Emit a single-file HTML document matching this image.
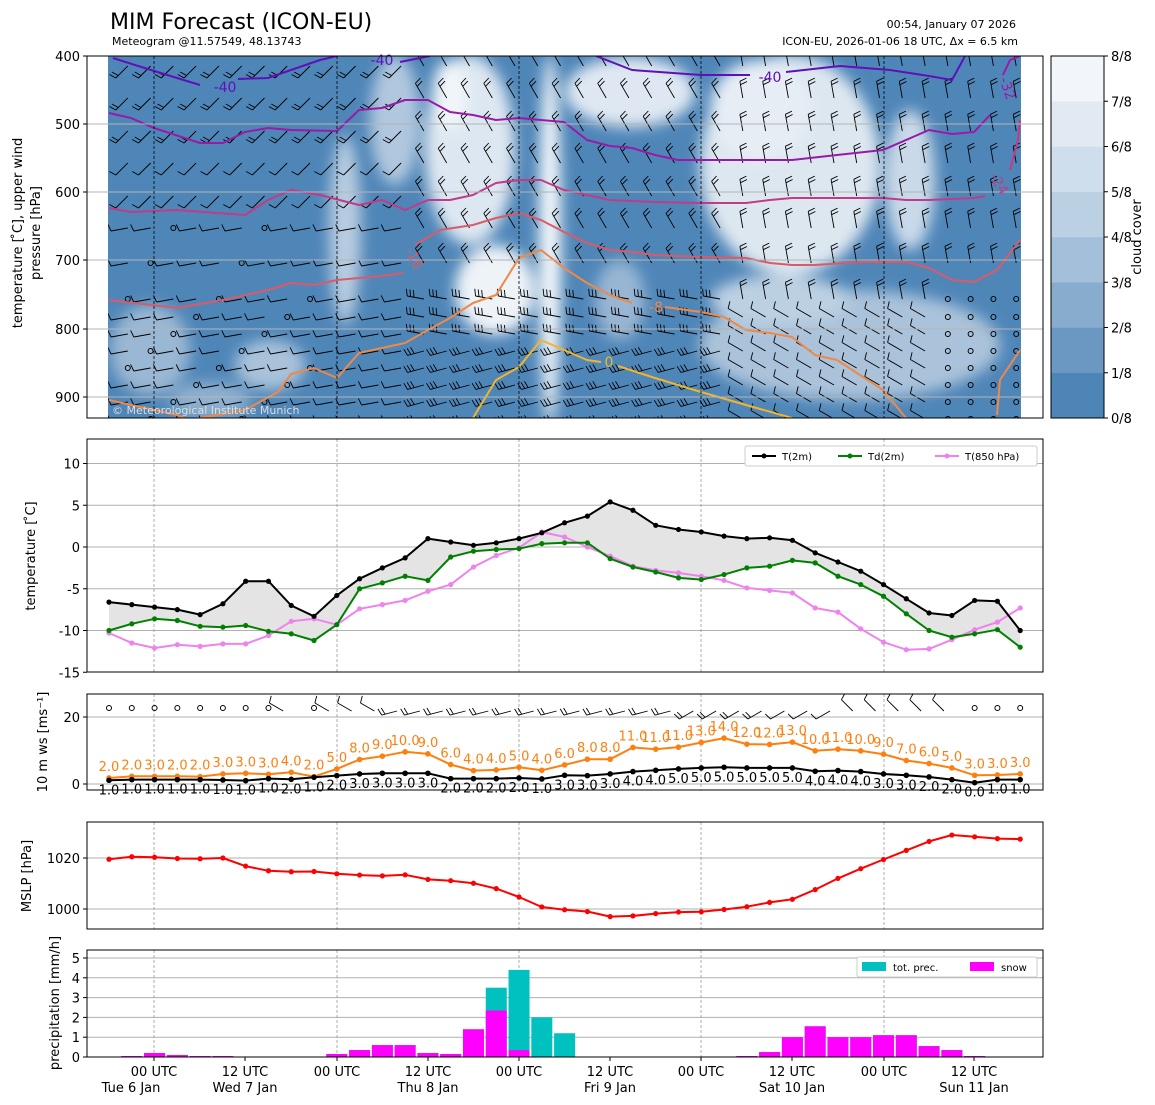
<!DOCTYPE html>
<html><head><meta charset="utf-8"><style>
html,body{margin:0;padding:0;background:#fff;}
svg{display:block;font-family:"DejaVu Sans","Liberation Sans",sans-serif;}
</style></head><body>
<svg id="s" width="1155" height="1105" xmlns="http://www.w3.org/2000/svg">
<defs>
<filter id="bl" x="-50%" y="-50%" width="200%" height="200%"><feGaussianBlur stdDeviation="7"/></filter>
<clipPath id="c1"><rect x="108" y="56" width="913" height="362"/></clipPath>
<clipPath id="c3"><rect x="87" y="694" width="956" height="96"/></clipPath>
</defs>
<g id="g"></g>
</svg>
<script>
const NS="http://www.w3.org/2000/svg";let G=document.getElementById('g');const ROOT=G;
function add(p,t,a,txt){const e=document.createElementNS(NS,t);for(const k in a)e.setAttribute(k,a[k]);if(txt!==undefined)e.textContent=txt;p.appendChild(e);return e;}
function el(t,a,txt){return add(G,t,a,txt);}
const X=i=>109+22.78*i;
const L=87,R=1043;
const vlines=[154,337,519,701,884];
el('text',{x:110,y:29,'font-size':22},'MIM Forecast (ICON-EU)');
el('text',{x:112,y:45,'font-size':11},'Meteogram @11.57549, 48.13743');
el('text',{x:1016,y:28,'font-size':11,'text-anchor':'end'},'00:54, January 07 2026');
el('text',{x:1018,y:45,'font-size':11,'text-anchor':'end'},'ICON-EU, 2026-01-06 18 UTC, Δx = 6.5 km');
// ===== panel 1 =====
const cg=add(ROOT,'g',{'clip-path':'url(#c1)'});
add(cg,'rect',{x:108,y:56,width:913,height:362,fill:'#4f86b8'});
const bg=add(cg,'g',{filter:'url(#bl)'});
const blobs=[
['#9ab7d3',150,350,40,45],['#a9c2da',270,365,35,25],['#8fb0cf',210,400,40,18],
['#b7cce0',345,230,16,95],['#b0c7de',395,120,25,65],['#dde7f1',470,150,45,95],
['#f0f5f9',450,95,18,35],['#eef3f8',495,290,40,45],['#f3f7fa',550,240,11,185],
['#dfe8f2',630,92,65,35],['#dde7f0',790,165,90,110],['#e6edf5',760,110,50,50],
['#c9d9e9',910,180,25,70],['#aac3da',850,345,150,55],['#bcd0e3',780,300,70,25],
['#98b6d3',620,300,25,40]];
blobs.forEach(b=>add(bg,'ellipse',{cx:b[1],cy:b[2],rx:b[3],ry:b[4],fill:b[0]}));
const bgrp=add(cg,'g',{});
[124,192,260,329,397].forEach(y=>el('line',{x1:L,x2:R,y1:y,y2:y,stroke:'#b4b4b4','stroke-width':1}));
vlines.forEach(x=>el('line',{x1:x,x2:x,y1:56,y2:418,stroke:'#000','stroke-width':0.8,'stroke-dasharray':'3,2'}));
const rows=[60,92,125,157,190,222,257,293,311,328,345,362,379,396,413];
function barb(x,y,ang,n,calm,len){
 len=len||17;
 if(calm){el('circle',{cx:x,cy:y,r:2.5,fill:'none',stroke:'#000','stroke-width':1});return;}
 const a=ang*Math.PI/180,dx=Math.sin(a),dy=-Math.cos(a);
 const ex=x+dx*len,ey=y+dy*len;let d=`M${x.toFixed(1)} ${y}L${ex.toFixed(1)} ${ey.toFixed(1)}`;
 for(let k=0;k<n;k++){const t=len-k*3.5;const px=x+dx*t,py=y+dy*t;
  const fx=px-dy*7+dx*2,fy=py+dx*7+dy*2;d+=`M${px.toFixed(1)} ${py.toFixed(1)}L${fx.toFixed(1)} ${fy.toFixed(1)}`;}
 el('path',{d:d,stroke:'#000','stroke-width':0.9,fill:'none'});
}
G=bgrp;
for(let i=0;i<41;i++){const x=X(i);rows.forEach((y,r)=>{
 let ang,n,calm=false;
 if(i<14){ang=r<5?225:260;n=r<3?2:1;if(r>=5&&i<10&&((i*7+r*3)%4==0))calm=true;}
 else if(i<28){ang=r<7?330:(r<10?280:255);n=r<7?2:3;}
 else {ang=r<8?350:300;n=r<8?2:1;if(i>36&&r>6)calm=true;}
 barb(x-4,y+6,ang,n,calm);});}
G=ROOT;
function pl(pts,col,w){el('polyline',{points:pts,fill:'none',stroke:col,'stroke-width':w||2,'stroke-linejoin':'round'});}
const c40='#6010b8',c32='#9a1aa8',c24='#c23a88',c16='#dc5a68',c8='#f08848',c0='#f4b42a';
G=cg;
pl('113,58 135,65 177,78 200,85',c40);pl('238,79 268,78 291,70 320,60 337,56',c40);pl('400,62 430,56',c40);
pl('596,56 632,70 701,75 750,75',c40);pl('786,72 840,66 890,70 929,76 952,80 965,56',c40);
pl('109,113 131,118 154,128 200,143 223,143 245,132 268,128 291,130 337,131 359,110 382,108 405,100 428,100 450,112 473,115 496,120 519,118 541,120 564,122 587,140 610,146 632,148 655,155 678,160 701,160 746,160 792,160 837,155 883,150 929,130 952,134 974,132 990,115',c32);
pl('1003,75 1010,60 1020,56',c32);
pl('109,208 131,212 177,210 245,215 268,200 291,190 320,195 359,205 382,200 405,210 428,200 450,200 473,195 496,183 519,180 541,180 564,190 587,195 610,200 655,202 701,203 746,203 770,200 792,198 837,198 883,198 906,200 929,200 974,198 985,196',c24);
pl('1010,170 1018,140 1020,120',c24);
pl('109,300 177,308 223,300 268,290 291,283 314,285 337,280 359,278 382,276 403,273',c16);
pl('415,245 440,230 473,225 496,218 519,213 541,220 564,232 587,243 610,250 632,252 655,255 701,257 746,258 770,263 792,265 815,265 860,262 906,262 929,268 952,280 974,282 997,270 1020,240',c16);
pl('109,400 131,405 177,415 185,418',c8);pl('200,418 245,410 278,392 291,374 314,368 337,378 359,353 382,348 405,343 428,330 450,318 473,303 496,295 519,258 541,250 564,268 587,283 610,295 632,303',c8);
pl('665,307 701,312 724,317 746,330 770,333 792,337 815,355 837,360 860,375 883,390 906,418',c8);pl('997,415 1000,380 1020,350',c8);
pl('473,418 496,380 519,367 541,340 564,350 587,360 601,362',c0);pl('618,366 655,378 701,392 746,405 792,418',c0);
G=ROOT;
el('text',{x:225,y:92,'font-size':14,fill:c40,'text-anchor':'middle'},'-40');
el('text',{x:382,y:65,'font-size':14,fill:c40,'text-anchor':'middle'},'-40');
el('text',{x:770,y:82,'font-size':14,fill:c40,'text-anchor':'middle'},'-40');
el('text',{x:1003,y:90,'font-size':14,fill:c32,'text-anchor':'middle',transform:'rotate(70 1003 90)'},'-32');
el('text',{x:995,y:186,'font-size':14,fill:c24,'text-anchor':'middle',transform:'rotate(60 995 186)'},'-24');
el('text',{x:410,y:260,'font-size':14,fill:c16,'text-anchor':'middle',transform:'rotate(65 410 260)'},'-16');
el('text',{x:656,y:312,'font-size':14,fill:c8,'text-anchor':'middle'},'-8');
el('text',{x:609,y:367,'font-size':14,fill:c0,'text-anchor':'middle'},'0');
el('text',{x:112,y:414,'font-size':11,fill:'#dddddd'},'© Meteorological Institute Munich');
el('rect',{x:L,y:56,width:R-L,height:362,fill:'none',stroke:'#000','stroke-width':1});
[[400,56],[500,124],[600,192],[700,260],[800,329],[900,397]].forEach(t=>{el('line',{x1:L-4,x2:L,y1:t[1],y2:t[1],stroke:'#000'});el('text',{x:L-7,y:t[1]+5,'font-size':13,'text-anchor':'end'},t[0]);});
el('text',{x:0,y:0,'font-size':13,'text-anchor':'middle',transform:'translate(22,233) rotate(-90)'},'temperature [ ̊C], upper wind');
el('text',{x:0,y:0,'font-size':13,'text-anchor':'middle',transform:'translate(40,233) rotate(-90)'},'pressure [hPa]');
const cbc=['#4d85b7','#6a98c3','#87acce','#a3bfd9','#bbd0e3','#cfdeec','#e1eaf3','#f2f6fa'];
for(let k=0;k<8;k++){el('rect',{x:1051,y:418-(k+1)*45.25,width:53,height:45.5,fill:cbc[k]});}
el('rect',{x:1051,y:56,width:53,height:362,fill:'none',stroke:'#000'});
for(let k=0;k<=8;k++){const y=418-k*45.25;el('line',{x1:1104,x2:1108,y1:y,y2:y,stroke:'#000'});el('text',{x:1111,y:y+5,'font-size':13},k+'/8');}
el('text',{x:0,y:0,'font-size':13,'text-anchor':'middle',transform:'translate(1141,237) rotate(-90)'},'cloud cover');
// ===== panel 2 =====
const T=[-6.6,-6.9,-7.2,-7.5,-8.1,-6.8,-4.1,-4.1,-7.0,-8.3,-5.8,-3.8,-2.5,-1.3,1.0,0.6,0.2,0.5,1.0,1.7,2.9,3.7,5.4,4.4,2.6,2.1,1.8,1.3,1.0,1.1,0.8,-0.7,-1.8,-2.9,-4.5,-6.2,-7.9,-8.2,-6.4,-6.5,-10];
const Td=[-10,-9.2,-8.6,-8.8,-9.5,-9.6,-9.4,-10.1,-10.4,-11.2,-9.3,-5.0,-4.3,-3.5,-4.0,-1.2,-0.5,-0.3,-0.2,0.4,0.5,0.5,-1.4,-2.4,-3.0,-3.7,-3.9,-3.3,-2.5,-2.3,-1.6,-1.9,-3.5,-4.5,-5.9,-8.0,-10.0,-10.8,-10.4,-9.9,-12];
const T8=[-10.3,-11.5,-12.1,-11.7,-11.9,-11.6,-11.6,-10.6,-8.9,-8.6,-9.3,-7.4,-6.9,-6.4,-5.3,-4.5,-2.4,-1.0,-0.1,1.8,1.2,0,-1.1,-2.3,-2.8,-3.1,-3.5,-4.0,-4.9,-5.2,-5.5,-7.3,-7.8,-9.8,-11.4,-12.3,-12.2,-11.1,-9.9,-9.0,-7.3];
const Y2=v=>547-8.35*v;
[10,5,0,-5,-10].forEach(v=>el('line',{x1:L,x2:R,y1:Y2(v),y2:Y2(v),stroke:'#b0b0b0'}));
vlines.forEach(x=>el('line',{x1:x,x2:x,y1:439,y2:672,stroke:'#999','stroke-width':0.8,'stroke-dasharray':'3,2'}));
let poly=T.map((v,i)=>X(i)+','+Y2(v)).join(' ')+' '+Td.map((v,i)=>X(i)+','+Y2(v)).reverse().join(' ');
el('polygon',{points:poly,fill:'#e4e4e4'});
function series(arr,Y,col,r,w){pl(arr.map((v,i)=>X(i).toFixed(1)+','+Y(v).toFixed(1)).join(' '),col,w||2);arr.forEach((v,i)=>el('circle',{cx:X(i),cy:Y(v),r:r||2.6,fill:col}));}
series(T8,Y2,'#ee82ee');series(Td,Y2,'#008000');series(T,Y2,'#000');
el('rect',{x:L,y:439,width:R-L,height:233,fill:'none',stroke:'#000'});
[10,5,0,-5,-10,-15].forEach(v=>{el('line',{x1:L-4,x2:L,y1:Y2(v),y2:Y2(v),stroke:'#000'});el('text',{x:L-7,y:Y2(v)+5,'font-size':13,'text-anchor':'end'},v);});
el('text',{x:0,y:0,'font-size':13,'text-anchor':'middle',transform:'translate(35,556) rotate(-90)'},'temperature [ ̊C]');
el('rect',{x:745,y:446,width:292,height:20,fill:'#fff',stroke:'#ccc',rx:2});
[[752,'#000','T(2m)'],[838,'#008000','Td(2m)'],[935,'#ee82ee','T(850 hPa)']].forEach(l=>{el('line',{x1:l[0],x2:l[0]+24,y1:456,y2:456,stroke:l[1],'stroke-width':2});el('circle',{cx:l[0]+12,cy:456,r:2.5,fill:l[1]});el('text',{x:l[0]+30,y:460,'font-size':10},l[2]);});
// ===== panel 3 =====
const gl=[2,2,3,2,2,3,3,3,4,2,5,8,9,10,9,6,4,4,5,4,6,8,8,11,11,11,13,14,12,12,13,10,11,10,9,7,6,5,3,3,3];
const ml=[1,1,1,1,1,1,1,1,2,1,2,3,3,3,3,2,2,2,2,1,3,3,3,4,4,5,5,5,5,5,5,4,4,4,3,3,2,2,0,1,1];
const gv=[1.8,2.3,2.3,2.3,2.2,3.0,3.2,2.9,3.5,2.2,4.5,7.3,8.3,9.6,9.0,5.8,4.0,4.2,5.0,4.1,5.7,7.4,7.4,10.9,10.4,11.0,12.4,13.7,11.9,11.8,12.5,9.9,10.4,9.9,8.9,7.0,6.1,4.8,2.6,2.7,3.0];
const mv=[1.1,1.3,1.3,1.3,1.3,1.2,1.0,1.6,1.4,2.0,2.5,3.0,3.2,3.2,3.2,1.6,1.6,1.6,1.8,1.5,2.6,2.5,3.0,3.7,4.1,4.5,4.8,5.0,4.8,4.8,4.8,3.8,4.0,3.7,3.0,2.6,2.1,1.3,0.4,1.3,1.3];
const Y3=v=>784-3.35*v;
[0,20].forEach(v=>el('line',{x1:L,x2:R,y1:Y3(v),y2:Y3(v),stroke:'#b0b0b0'}));
vlines.forEach(x=>el('line',{x1:x,x2:x,y1:694,y2:790,stroke:'#999','stroke-width':0.8,'stroke-dasharray':'3,2'}));
series(gv,Y3,'#ff7f0e',2.8);series(mv,Y3,'#000',2.8);
gl.forEach((v,i)=>el('text',{x:X(i),y:Y3(gv[i])-7,'font-size':13,fill:'#ff7f0e','text-anchor':'middle'},v.toFixed(1)));
ml.forEach((v,i)=>el('text',{x:X(i),y:Y3(mv[i])+14,'font-size':13,fill:'#000','text-anchor':'middle'},v.toFixed(1)));
const b3=add(ROOT,'g',{'clip-path':'url(#c3)'});G=b3;
for(let i=0;i<41;i++){const x=X(i),y=708;
 if(i<8||i==9||i>37)el('circle',{cx:x,cy:y,r:2.5,fill:'none',stroke:'#000'});
 else{const ang=i<13?300:(i<26?255:(i<33?240:315));barb(x-8,y+3,ang,i<13?1:(i<30?2:1),false,16);}}
G=ROOT;
el('rect',{x:L,y:694,width:R-L,height:96,fill:'none',stroke:'#000'});
[0,20].forEach(v=>{el('line',{x1:L-4,x2:L,y1:Y3(v),y2:Y3(v),stroke:'#000'});el('text',{x:L-7,y:Y3(v)+5,'font-size':13,'text-anchor':'end'},v);});
el('text',{x:0,y:0,'font-size':13,'text-anchor':'middle',transform:'translate(47,742) rotate(-90)'},'10 m ws [ms⁻¹]');
// ===== panel 4 =====
const P=[1019.5,1020.5,1020.3,1019.8,1019.7,1020,1016.8,1015,1014.6,1014.7,1013.8,1013.3,1013,1013.4,1011.6,1011.1,1010.1,1008,1004.7,1000.8,999.7,999,997,997.3,998.2,998.8,998.9,999.8,1000.9,1002.6,1003.8,1007.6,1012,1015.8,1019.4,1023,1026.5,1029,1028.3,1027.6,1027.4];
const Y4=v=>909-2.55*(v-1000);
[1020,1000].forEach(v=>el('line',{x1:L,x2:R,y1:Y4(v),y2:Y4(v),stroke:'#b0b0b0'}));
vlines.forEach(x=>el('line',{x1:x,x2:x,y1:822,y2:929,stroke:'#999','stroke-width':0.8,'stroke-dasharray':'3,2'}));
series(P,Y4,'#ff0000',2.6);
el('rect',{x:L,y:822,width:R-L,height:107,fill:'none',stroke:'#000'});
[1020,1000].forEach(v=>{el('line',{x1:L-4,x2:L,y1:Y4(v),y2:Y4(v),stroke:'#000'});el('text',{x:L-7,y:Y4(v)+5,'font-size':13,'text-anchor':'end'},v);});
el('text',{x:0,y:0,'font-size':13,'text-anchor':'middle',transform:'translate(31,876) rotate(-90)'},'MSLP [hPa]');
// ===== panel 5 =====
const Y5=v=>1057-19.8*v;
[1,2,3,4,5].forEach(v=>el('line',{x1:L,x2:R,y1:Y5(v),y2:Y5(v),stroke:'#b0b0b0'}));
vlines.forEach(x=>el('line',{x1:x,x2:x,y1:950,y2:1057,stroke:'#999','stroke-width':0.8,'stroke-dasharray':'3,2'}));
const tot={1:0.05,2:0.2,3:0.1,4:0.05,5:0.05,10:0.15,11:0.35,12:0.6,13:0.6,14:0.2,15:0.15,16:1.4,17:3.5,18:4.4,19:2.0,20:1.2,28:0.05,29:0.25,30:1.0,31:1.55,32:1.0,33:1.0,34:1.1,35:1.1,36:0.55,37:0.35,38:0.05};
const snow={17:2.35,18:0.35,19:0,20:0};
for(const k in tot){const i=+k,x=X(i)-10.5,t=tot[k];const s=(k in snow)?snow[k]:t;
 el('rect',{x:x,y:Y5(t),width:21,height:19.8*t,fill:'#00c0c0'});
 if(s>0)el('rect',{x:x,y:Y5(s),width:21,height:19.8*s,fill:'#ff00ff'});}
el('rect',{x:L,y:950,width:R-L,height:107,fill:'none',stroke:'#000'});
[0,1,2,3,4,5].forEach(v=>{el('line',{x1:L-4,x2:L,y1:Y5(v),y2:Y5(v),stroke:'#000'});el('text',{x:L-7,y:Y5(v)+5,'font-size':13,'text-anchor':'end'},v);});
el('text',{x:0,y:0,'font-size':13,'text-anchor':'middle',transform:'translate(59,1003) rotate(-90)'},'precipitation [mm/h]');
el('rect',{x:857,y:957,width:180,height:20,fill:'#fff',stroke:'#ccc',rx:2});
el('rect',{x:862,y:962,width:24,height:9,fill:'#00c0c0'});el('text',{x:893,y:971,'font-size':10},'tot. prec.');
el('rect',{x:970,y:962,width:24,height:9,fill:'#ff00ff'});el('text',{x:1001,y:971,'font-size':10},'snow');
const tk=[[154,'00 UTC','Tue 6 Jan',131],[245,'12 UTC','Wed 7 Jan',245],[337,'00 UTC','',0],[428,'12 UTC','Thu 8 Jan',428],[519,'00 UTC','',0],[610,'12 UTC','Fri 9 Jan',610],[701,'00 UTC','',0],[792,'12 UTC','Sat 10 Jan',792],[884,'00 UTC','',0],[974,'12 UTC','Sun 11 Jan',974]];
tk.forEach(t=>{el('line',{x1:t[0],x2:t[0],y1:1057,y2:1061,stroke:'#000'});el('text',{x:t[0],y:1076,'font-size':13,'text-anchor':'middle'},t[1]);if(t[2])el('text',{x:t[3],y:1092,'font-size':13,'text-anchor':'middle'},t[2]);});
</script>
</body></html>
